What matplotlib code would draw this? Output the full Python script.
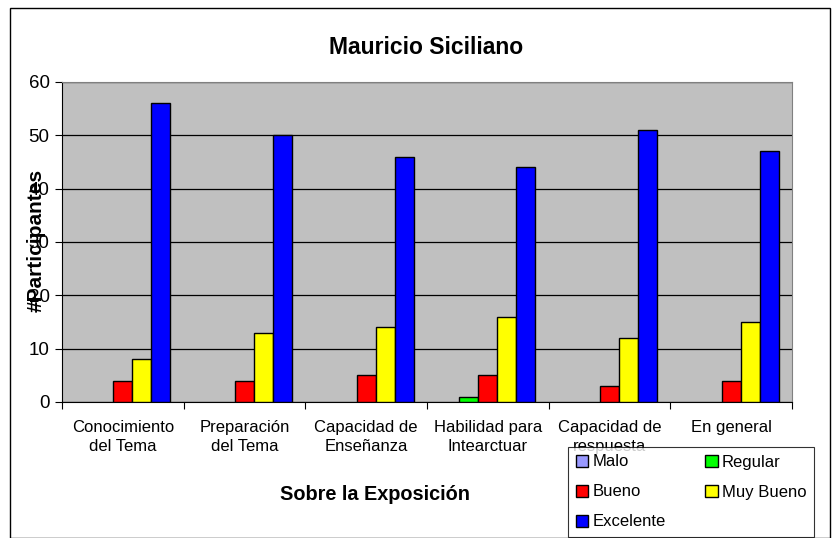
import numpy as np
import matplotlib
matplotlib.use("Agg")
import matplotlib.pyplot as plt
from matplotlib.patches import Rectangle

categories = ["Conocimiento\ndel Tema", "Preparación\ndel Tema", "Capacidad de\nEnseñanza",
              "Habilidad para\nIntearctuar", "Capacidad de\nrespuesta", "En general"]
malo = [0, 0, 0, 0, 0, 0]
regular = [0, 0, 0, 1, 0, 0]
bueno = [4, 4, 5, 5, 3, 4]
muy_bueno = [8, 13, 14, 16, 12, 15]
excelente = [56, 50, 46, 44, 51, 47]

series = [("Malo", malo, "#9999FF"), ("Regular", regular, "#00FF00"),
          ("Bueno", bueno, "#FF0000"), ("Muy Bueno", muy_bueno, "#FFFF00"),
          ("Excelente", excelente, "#0000FF")]

plt.rcParams['font.family'] = ['Liberation Sans', 'DejaVu Sans']

fig = plt.figure(figsize=(8.4, 5.38), dpi=100)
W, H = 840, 538
ax = fig.add_axes([62 / W, 1 - 402 / H, 730 / W, 320 / H])
ax.set_facecolor("#C0C0C0")

x = np.arange(len(categories))
bw = 0.156
handles = {}
for i, (name, vals, col) in enumerate(series):
    lws = [1 if v > 0 else 0 for v in vals]
    ax.bar(x + (i - 2) * bw, vals, bw, color=col, edgecolor="black",
           linewidth=lws, zorder=3)
    handles[name] = Rectangle((0, 0), 1, 1, facecolor=col, edgecolor="black", linewidth=1)

ax.set_xlim(-0.5, len(categories) - 0.5)
ax.set_ylim(0, 60)
ax.set_yticks(range(0, 61, 10))
ax.yaxis.grid(True, color="black", linewidth=0.9, zorder=1)
ax.set_axisbelow(True)
ax.tick_params(axis="y", labelsize=13.5, direction="out", length=5, pad=4)

ax.set_xticks(np.arange(-0.5, len(categories), 1.0))
ax.set_xticklabels([])
ax.set_xticks(x, minor=True)
ax.set_xticklabels(categories, minor=True, fontsize=12, linespacing=1.3)
ax.tick_params(axis="x", which="major", direction="out", length=5)
ax.tick_params(axis="x", which="minor", length=0, pad=13)

for s in ["left", "bottom"]:
    ax.spines[s].set_color("black")
for s in ["top", "right"]:
    ax.spines[s].set_color("#808080")

fig.text(426 / W, 1 - 47 / H, "Mauricio Siciliano", ha="center", va="center",
         fontsize=16.5, fontweight="bold")
fig.text(375 / W, 1 - 494 / H, "Sobre la Exposición", ha="center", va="center",
         fontsize=14.3, fontweight="bold")
fig.text(36 / W, 1 - 240 / H, "#Participantes", ha="center", va="center",
         rotation=90, fontsize=15, fontweight="bold")

order = ["Malo", "Bueno", "Excelente", "Regular", "Muy Bueno"]
leg = ax.legend([handles[n] for n in order], order, ncol=2, loc="upper left",
                bbox_to_anchor=(568 / W, 1 - 447 / H), borderaxespad=0,
                bbox_transform=fig.transFigure, frameon=True, fontsize=12,
                handlelength=0.75, handleheight=0.75, handletextpad=0.25,
                columnspacing=2.4, borderpad=0.45, labelspacing=0.9,
                fancybox=False, edgecolor="black")
leg.get_frame().set_linewidth(0.8)
leg.set_zorder(10)

fig.patches.append(Rectangle((10 / W, 0), 820 / W, 1 - 8 / H, transform=fig.transFigure,
                             fill=False, edgecolor="black", linewidth=1))

fig.savefig("out.png", dpi=100)
